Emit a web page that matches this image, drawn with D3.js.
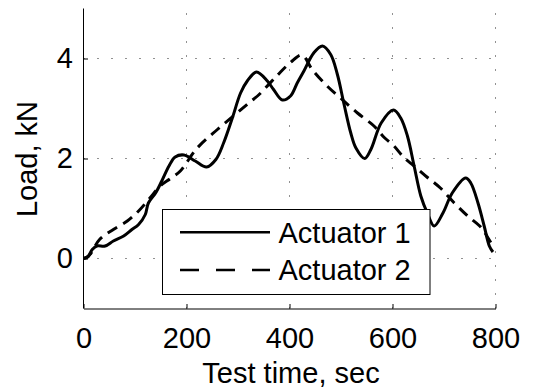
<!DOCTYPE html>
<html>
<head>
<meta charset="utf-8">
<script src="https://cdn.jsdelivr.net/npm/d3@7"></script>
<style>
  html, body { margin: 0; padding: 0; background: #fff; }
  svg { display: block; }
  text { font-family: "Liberation Sans", Arial, sans-serif; fill: #000; }
</style>
</head>
<body>
<svg id="chart" width="534" height="390"></svg>
<script>
// ---- data ----
const xTicks = [0, 200, 400, 600, 800];
const yTicks = [0, 2, 4];
const seriesNames = ["Actuator 1", "Actuator 2"];

const act1Time = [0, 8, 17, 26, 42, 58, 78, 94, 107, 120, 126, 140, 152, 166, 178, 195, 217, 239, 257, 272, 289, 305, 318, 336, 357, 369, 386, 402, 415, 428, 447, 464, 480, 493, 506, 519, 529, 546, 558, 578, 602, 616, 629, 642, 655, 668, 681, 698, 716, 742, 752, 766, 778, 788, 795];
const act1Load = [0, 0.03, 0.18, 0.25, 0.25, 0.35, 0.45, 0.58, 0.68, 0.88, 1.11, 1.31, 1.55, 1.85, 2.03, 2.07, 1.95, 1.83, 1.98, 2.31, 2.81, 3.31, 3.55, 3.73, 3.55, 3.38, 3.17, 3.25, 3.51, 3.75, 4.11, 4.25, 4.08, 3.68, 3.08, 2.51, 2.21, 2.0, 2.18, 2.71, 2.97, 2.81, 2.45, 1.85, 1.25, 0.9, 0.65, 0.91, 1.31, 1.61, 1.51, 1.11, 0.65, 0.25, 0.13];

const act2Time = [0, 10, 32, 58, 85, 107, 129, 149, 169, 188, 220, 260, 298, 321, 341, 376, 402, 424, 444, 473, 499, 532, 564, 584, 603, 622, 642, 668, 693, 720, 746, 772, 785, 792];
const act2Load = [0, 0.05, 0.39, 0.58, 0.75, 0.95, 1.21, 1.45, 1.6, 1.75, 2.2, 2.58, 2.91, 3.11, 3.28, 3.66, 3.92, 4.07, 3.78, 3.45, 3.21, 2.91, 2.65, 2.42, 2.25, 2.02, 1.85, 1.62, 1.41, 1.11, 0.85, 0.62, 0.42, 0.3];

// ---- layout ----
const FS = 29;
const svg = d3.select("#chart");
const x = d3.scaleLinear().domain([0, 800]).range([83.5, 495.5]);
const y = d3.scaleLinear().domain([-1, 5]).range([308.5, 8.5]);

// grid
const grid = svg.append("g").attr("stroke", "#222").attr("stroke-width", 1)
  .attr("stroke-dasharray", "1,13");
xTicks.filter(d => d > 0).forEach(d => {
  grid.append("line").attr("x1", x(d)).attr("x2", x(d)).attr("y1", y(-1)).attr("y2", y(5));
});
yTicks.forEach(d => {
  grid.append("line").attr("x1", x(0)).attr("x2", x(800)).attr("y1", y(d)).attr("y2", y(d));
});

// axes
const xAxis = d3.axisBottom(x).tickValues(xTicks).tickFormat(d3.format("d"))
  .tickSizeInner(-4.5).tickSizeOuter(0).tickPadding(19);
const yAxis = d3.axisLeft(y).tickValues(yTicks).tickFormat(d3.format("d"))
  .tickSizeInner(-4.5).tickSizeOuter(0).tickPadding(10.5);

const gx = svg.append("g").attr("transform", `translate(0,${y(-1)})`).call(xAxis);
const gy = svg.append("g").attr("transform", `translate(${x(0)},0)`).call(yAxis);
[gx, gy].forEach(g => {
  g.selectAll("path,line").attr("stroke", "#000").attr("stroke-width", 1);
  g.selectAll("text").attr("font-size", FS).style("font-family", '"Liberation Sans", Arial, sans-serif').attr("fill", "#000");
});
gy.select(".domain").attr("d", `M0,${y(-1)}V${y(5)}`);

// axis labels
svg.append("text").attr("x", 291).attr("y", 383).attr("text-anchor", "middle")
  .attr("font-size", FS).text("Test time, sec");
svg.append("text").attr("transform", "translate(36.5,159) rotate(-90)")
  .attr("text-anchor", "middle").attr("font-size", FS).text("Load, kN");

// lines
const line = d3.line().x(d => x(d[0])).y(d => y(d[1])).curve(d3.curveCatmullRom.alpha(0.5));
const s1 = act1Time.map((t, i) => [t, act1Load[i]]);
const s2 = act2Time.map((t, i) => [t, act2Load[i]]);

svg.append("path").datum(s2).attr("d", line).attr("fill", "none")
  .attr("stroke", "#000").attr("stroke-width", 3).attr("stroke-dasharray", "11,7");
svg.append("path").datum(s1).attr("d", line).attr("fill", "none")
  .attr("stroke", "#000").attr("stroke-width", 3).attr("stroke-linejoin", "round");

// legend
const lg = svg.append("g");
lg.append("rect").attr("x", 162.5).attr("y", 209.5).attr("width", 267.5).attr("height", 85)
  .attr("fill", "#fff").attr("stroke", "#000").attr("stroke-width", 1);
const rows = [232.3, 270];
seriesNames.forEach((name, i) => {
  lg.append("line").attr("x1", 180).attr("x2", 270).attr("y1", rows[i]).attr("y2", rows[i])
    .attr("stroke", "#000").attr("stroke-width", 2.4)
    .attr("stroke-dasharray", i === 1 ? "19,17" : null);
  lg.append("text").attr("x", 278.5).attr("y", rows[i] + 0.358 * FS)
    .attr("font-size", FS).text(name);
});
</script>
</body>
</html>
